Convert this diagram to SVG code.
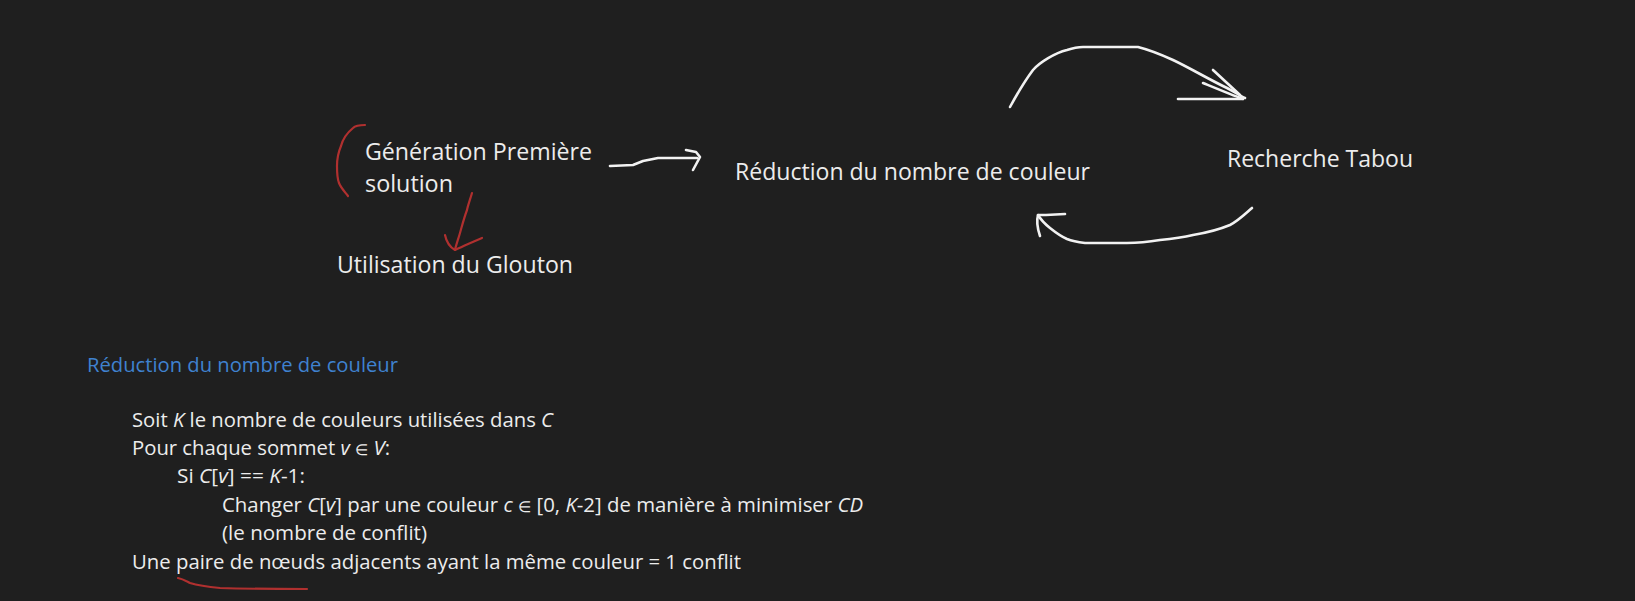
<svg xmlns="http://www.w3.org/2000/svg" width="1635" height="601" viewBox="0 0 1635 601">
<style>
.t{font-family:"Open Sans","Liberation Sans",sans-serif;fill:#ececec}
.big{font-size:23px}
.body{font-size:20px}
.h{font-family:"Open Sans","Liberation Sans",sans-serif;font-size:19.5px;fill:#3f82cf}
.i{font-style:italic}
.el{font-size:15px}
.w{fill:none;stroke:#f2f2f2;stroke-width:2.6;stroke-linecap:round;stroke-linejoin:round}
.r{fill:none;stroke:#b0302f;stroke-width:2.2;stroke-linecap:round;stroke-linejoin:round}
</style>
<rect width="1635" height="601" fill="#1f1f1f"/>

<g id="node-generation">
<text class="t big" x="365" y="160" textLength="227" lengthAdjust="spacingAndGlyphs">Génération Première</text>
<text class="t big" x="365" y="192" textLength="88" lengthAdjust="spacingAndGlyphs">solution</text>
</g>
<g id="node-glouton">
<text class="t big" x="337" y="273" textLength="236" lengthAdjust="spacingAndGlyphs">Utilisation du Glouton</text>
</g>
<g id="node-reduction">
<text class="t big" x="735" y="180" textLength="355" lengthAdjust="spacingAndGlyphs">Réduction du nombre de couleur</text>
</g>
<g id="node-tabou">
<text class="t big" x="1227" y="167" textLength="186" lengthAdjust="spacingAndGlyphs">Recherche Tabou</text>
</g>

<g id="connectors">
<path class="w" d="M610,166 L633,165 L643,161 L653,159 L658,158 L697,158"/>
<path class="w" d="M686,150 L696,152 L700,157 L693,170"/>
<path class="w" d="M1010,107 C1016,96 1024,82 1033,70 C1040,62 1055,53 1067,50 C1073,48 1078,47 1083,47 L1138,47 C1150,50 1162,55 1173,60 C1190,68 1210,80 1227,88 C1235,92 1240,96 1245,98"/>
<path class="w" d="M1203,83 C1220,90 1232,95 1243,99"/>
<path class="w" d="M1213,70 L1240,95"/>
<path class="w" d="M1178,99 L1242,99"/>
<path class="w" d="M1252,208 C1245,214 1238,221 1230,225 C1218,230 1205,233 1193,235 C1180,238 1170,239 1160,240 C1148,242 1138,243 1127,243 L1085,243 C1077,242 1072,241 1067,239 C1060,236 1055,232 1050,228 C1045,224 1041,220 1038,215"/>
<path class="w" d="M1065,214 L1046,215 L1038,215 C1036,222 1038,230 1040,236"/>
<path class="r" d="M472,193 C470,200 468,205 467,210 C464,218 462,226 460,233 C458,240 456,245 455,250"/>
<path class="r" d="M445,235 C446,240 448,246 455,250 C462,247 472,242 482,238"/>
</g>

<g id="annotations">
<path class="r" d="M365,125 C358,125 355,126 353,128 C347,133 343,138 341,146 C338,153 337,160 337,166 C337,173 337,178 339,183 C341,188 345,192 348,196"/>
<path class="r" d="M178,578 C183,579 186,581 190,583 C200,586 210,587 220,588 C250,589 280,589 307,589"/>
</g>

<g id="pseudocode">
<text class="h" x="87" y="372" textLength="311" lengthAdjust="spacingAndGlyphs">Réduction du nombre de couleur</text>
<text class="t body" x="132" y="427" textLength="421" lengthAdjust="spacingAndGlyphs">Soit <tspan class="i">K</tspan> le nombre de couleurs utilisées dans <tspan class="i">C</tspan></text>
<text class="t body" x="132" y="455" textLength="258" lengthAdjust="spacingAndGlyphs">Pour chaque sommet <tspan class="i">v</tspan> <tspan class="el">∈</tspan> <tspan class="i">V</tspan>:</text>
<text class="t body" x="177" y="483" textLength="128" lengthAdjust="spacingAndGlyphs">Si <tspan class="i">C</tspan>[<tspan class="i">v</tspan>] == <tspan class="i">K</tspan>-1:</text>
<text class="t body" x="222" y="512" textLength="641" lengthAdjust="spacingAndGlyphs">Changer <tspan class="i">C</tspan>[<tspan class="i">v</tspan>] par une couleur <tspan class="i">c</tspan> <tspan class="el">∈</tspan> [0, <tspan class="i">K</tspan>-2] de manière à minimiser <tspan class="i">CD</tspan></text>
<text class="t body" x="222" y="540" textLength="205" lengthAdjust="spacingAndGlyphs">(le nombre de conflit)</text>
<text class="t body" x="132" y="569" textLength="609" lengthAdjust="spacingAndGlyphs">Une paire de nœuds adjacents ayant la même couleur = 1 conflit</text>
</g>
</svg>
